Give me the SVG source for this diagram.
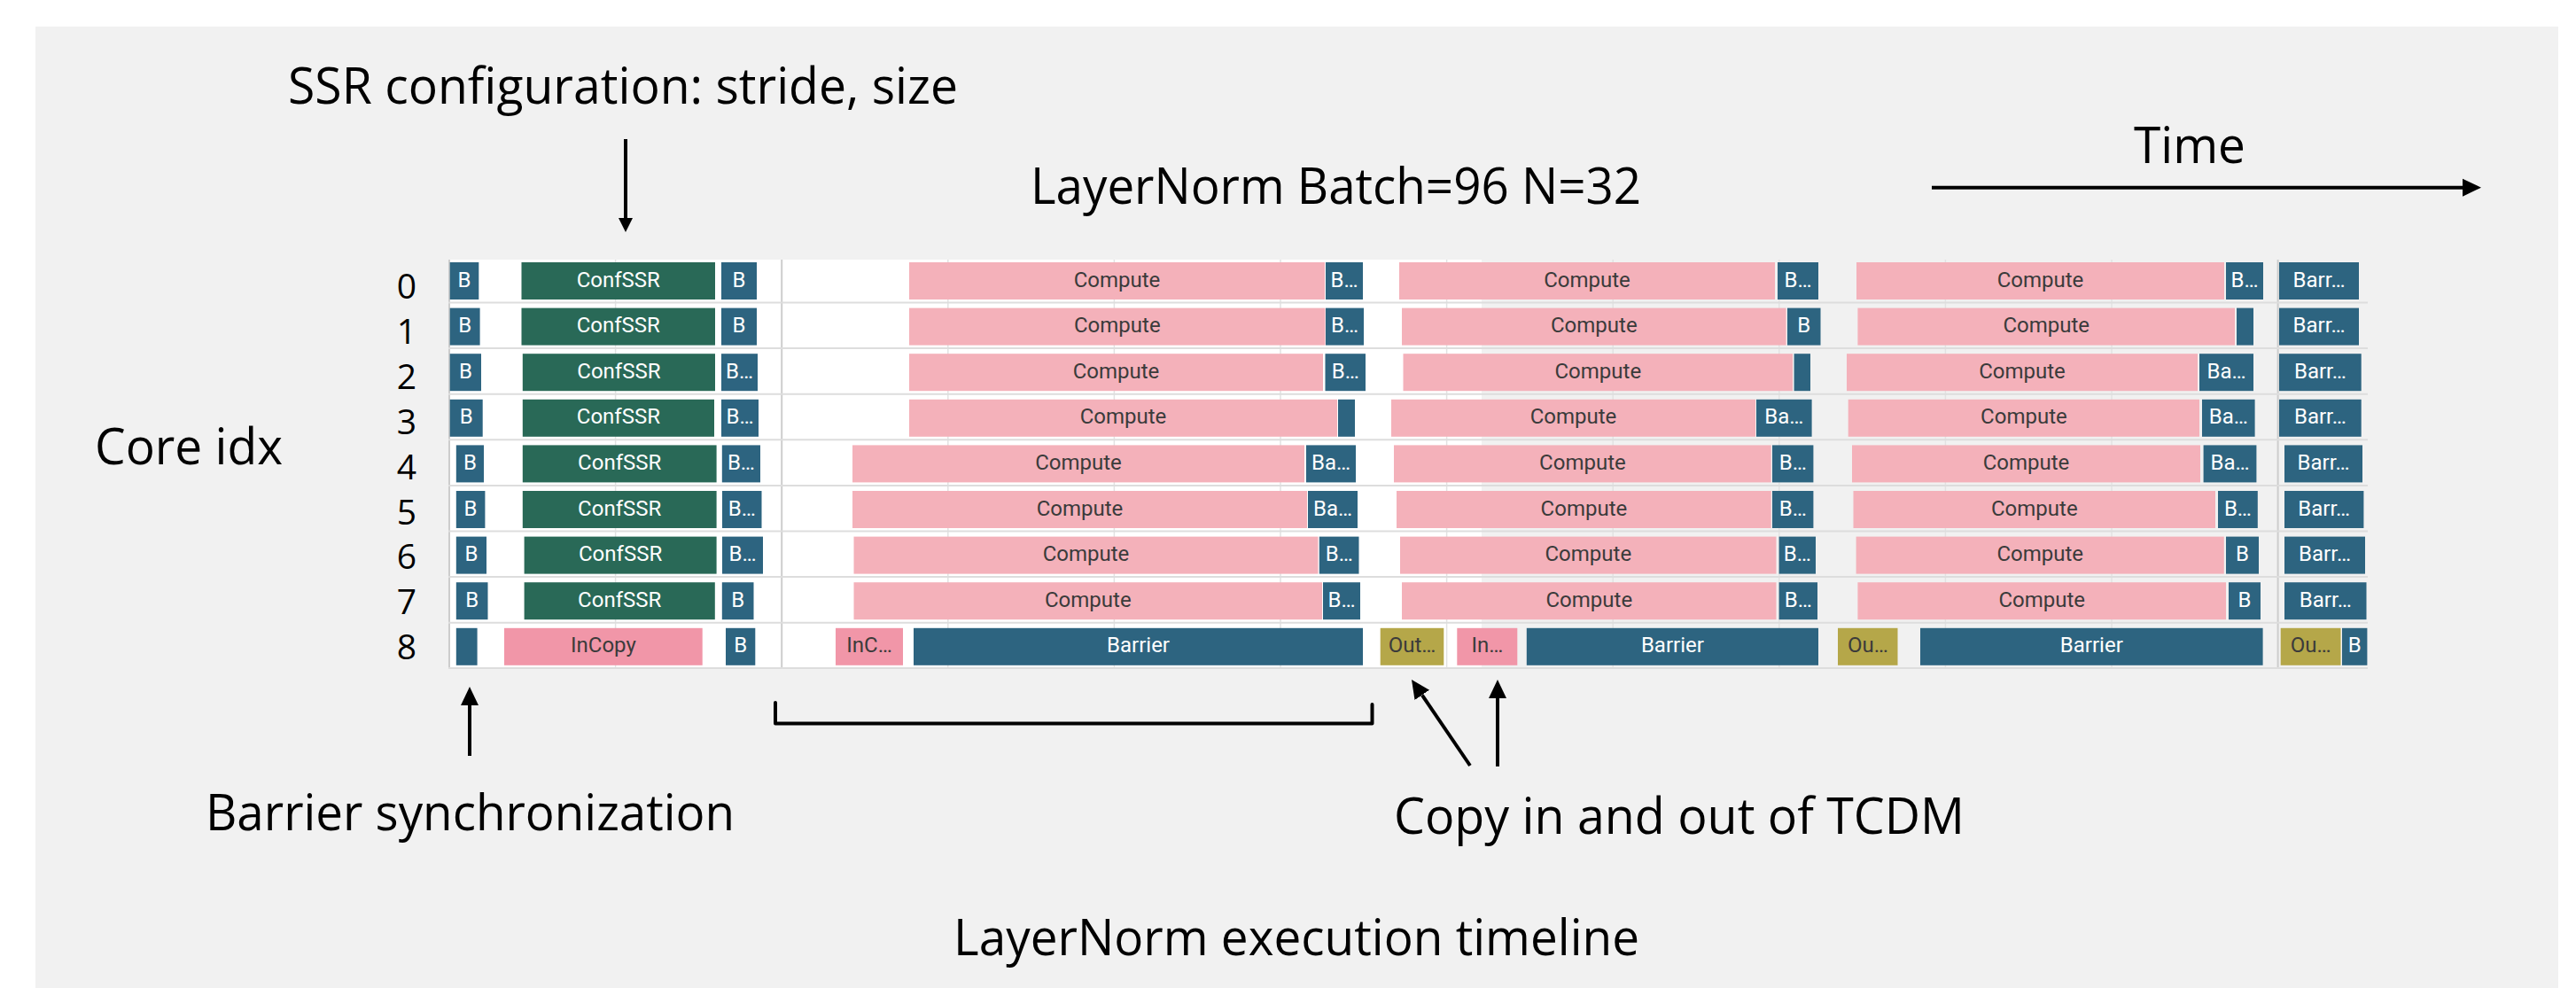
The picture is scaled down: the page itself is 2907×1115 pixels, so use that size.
<svg xmlns="http://www.w3.org/2000/svg" width="2907" height="1115" viewBox="0 0 2907 1115">
  <style>
    .panel { fill: #f1f1f1; }
    .chart { fill: #ffffff; }
    .grid { stroke: #e2e2e2; stroke-width: 1.5; }
    .grid-strong { stroke: #cdcdcd; stroke-width: 2; }
    .rowsep { stroke: #dddddd; stroke-width: 2; }
    .blue { fill: #2d6480; }
    .green { fill: #296957; }
    .pink { fill: #f4b1ba; }
    .pinkd { fill: #f196a8; }
    .olive { fill: #b5a749; }
    .lbl { font-family: Roboto, "Liberation Sans", sans-serif; font-size: 24px; text-anchor: middle; }
    .lw { fill: #ffffff; }
    .ld { fill: #3b3b3b; }
    .ann { font-family: "Open Sans", "Noto Sans", "Liberation Sans", sans-serif; font-size: 56px; fill: #000000; }
    .rowno { font-family: "Open Sans", "Noto Sans", "Liberation Sans", sans-serif; font-size: 39px; fill: #000000; text-anchor: middle; }
    .arrow { stroke: #000000; fill: none; stroke-width: 4; }
  </style>
  <defs>
    <marker id="ah" markerUnits="userSpaceOnUse" markerWidth="24" markerHeight="24" viewBox="0 -12 24 24" refX="0" refY="0" orient="auto">
      <path d="M0,-10 L21,0 L0,10 Z" fill="#000000"/>
    </marker>
    <marker id="ah-sm" markerUnits="userSpaceOnUse" markerWidth="20" markerHeight="20" viewBox="0 -10 20 20" refX="0" refY="0" orient="auto">
      <path d="M0,-8 L16,0 L0,8 Z" fill="#000000"/>
    </marker>
  </defs>

  <!-- page background and grey panel -->
  <rect x="0" y="0" width="2907" height="1115" fill="#ffffff"/>
  <rect class="panel" x="40" y="30" width="2847" height="1085"/>

  <!-- timeline chart area -->
  <g id="chart-frame">
    <rect class="chart" x="506" y="293" width="1166" height="461"/>
    <line class="grid-strong" x1="507" y1="293" x2="507" y2="754"/>
    <line class="grid" x1="694.6" y1="293" x2="694.6" y2="754"/>
    <line class="grid-strong" x1="882.2" y1="293" x2="882.2" y2="754"/>
    <line class="grid" x1="1069.8" y1="293" x2="1069.8" y2="754"/>
    <line class="grid" x1="1257.4" y1="293" x2="1257.4" y2="754"/>
    <line class="grid" x1="1445" y1="293" x2="1445" y2="754"/>
    <line class="grid" x1="1632.6" y1="293" x2="1632.6" y2="754"/>
    <line class="grid" x1="1820.2" y1="293" x2="1820.2" y2="754"/>
    <line class="grid" x1="2007.8" y1="293" x2="2007.8" y2="754"/>
    <line class="grid" x1="2195.4" y1="293" x2="2195.4" y2="754"/>
    <line class="grid" x1="2383" y1="293" x2="2383" y2="754"/>
    <line class="grid-strong" x1="2570.6" y1="293" x2="2570.6" y2="754"/>
    <line class="rowsep" x1="506" y1="341.5" x2="2672" y2="341.5"/>
    <line class="rowsep" x1="506" y1="393.1" x2="2672" y2="393.1"/>
    <line class="rowsep" x1="506" y1="444.7" x2="2672" y2="444.7"/>
    <line class="rowsep" x1="506" y1="496.3" x2="2672" y2="496.3"/>
    <line class="rowsep" x1="506" y1="547.9" x2="2672" y2="547.9"/>
    <line class="rowsep" x1="506" y1="599.5" x2="2672" y2="599.5"/>
    <line class="rowsep" x1="506" y1="651.1" x2="2672" y2="651.1"/>
    <line class="rowsep" x1="506" y1="702.7" x2="2672" y2="702.7"/>
    <line class="rowsep" x1="506" y1="754" x2="2672" y2="754"/>
  </g>

  <!-- core indices -->
  <g id="row-labels">
    <text class="rowno" x="459" y="337.3">0</text>
    <text class="rowno" x="459" y="388.2">1</text>
    <text class="rowno" x="459" y="439">2</text>
    <text class="rowno" x="459" y="489.9">3</text>
    <text class="rowno" x="459" y="540.7">4</text>
    <text class="rowno" x="459" y="591.6">5</text>
    <text class="rowno" x="459" y="642.4">6</text>
    <text class="rowno" x="459" y="693.3">7</text>
    <text class="rowno" x="459" y="744.1">8</text>
  </g>

  <!-- core 0 -->
  <g id="core-0">
    <g id="c0-1"><rect class="blue" x="507.7" y="296" width="32.6" height="42"/><text class="lbl lw" x="524" y="323.5">B</text></g>
    <g id="c0-2"><rect class="green" x="588.5" y="296" width="218.5" height="42"/><text class="lbl lw" x="697.8" y="323.5">ConfSSR</text></g>
    <g id="c0-3"><rect class="blue" x="814" y="296" width="40" height="42"/><text class="lbl lw" x="834" y="323.5">B</text></g>
    <g id="c0-4"><rect class="pink" x="1026" y="296" width="469" height="42"/><text class="lbl ld" x="1260.5" y="323.5">Compute</text></g>
    <g id="c0-5"><rect class="blue" x="1496" y="296" width="42" height="42"/><text class="lbl lw" x="1517" y="323.5">B…</text></g>
    <g id="c0-6"><rect class="pink" x="1579" y="296" width="424" height="42"/><text class="lbl ld" x="1791" y="323.5">Compute</text></g>
    <g id="c0-7"><rect class="blue" x="2006" y="296" width="46" height="42"/><text class="lbl lw" x="2029" y="323.5">B…</text></g>
    <g id="c0-8"><rect class="pink" x="2095" y="296" width="415" height="42"/><text class="lbl ld" x="2302.5" y="323.5">Compute</text></g>
    <g id="c0-9"><rect class="blue" x="2512" y="296" width="42" height="42"/><text class="lbl lw" x="2533" y="323.5">B…</text></g>
    <g id="c0-10"><rect class="blue" x="2572" y="296" width="90" height="42"/><text class="lbl lw" x="2617" y="323.5">Barr…</text></g>
  </g>

  <!-- core 1 -->
  <g id="core-1">
    <g id="c1-1"><rect class="blue" x="507.7" y="347.6" width="33.9" height="42"/><text class="lbl lw" x="524.7" y="375.1">B</text></g>
    <g id="c1-2"><rect class="green" x="588.5" y="347.6" width="218.5" height="42"/><text class="lbl lw" x="697.8" y="375.1">ConfSSR</text></g>
    <g id="c1-3"><rect class="blue" x="814" y="347.6" width="40" height="42"/><text class="lbl lw" x="834" y="375.1">B</text></g>
    <g id="c1-4"><rect class="pink" x="1026" y="347.6" width="469.5" height="42"/><text class="lbl ld" x="1260.8" y="375.1">Compute</text></g>
    <g id="c1-5"><rect class="blue" x="1496" y="347.6" width="43" height="42"/><text class="lbl lw" x="1517.5" y="375.1">B…</text></g>
    <g id="c1-6"><rect class="pink" x="1582" y="347.6" width="433.6" height="42"/><text class="lbl ld" x="1798.8" y="375.1">Compute</text></g>
    <g id="c1-7"><rect class="blue" x="2017" y="347.6" width="37.5" height="42"/><text class="lbl lw" x="2035.8" y="375.1">B</text></g>
    <g id="c1-8"><rect class="pink" x="2096.4" y="347.6" width="425.6" height="42"/><text class="lbl ld" x="2309.2" y="375.1">Compute</text></g>
    <g id="c1-9"><rect class="blue" x="2524" y="347.6" width="19" height="42"/></g>
    <g id="c1-10"><rect class="blue" x="2572" y="347.6" width="90" height="42"/><text class="lbl lw" x="2617" y="375.1">Barr…</text></g>
  </g>

  <!-- core 2 -->
  <g id="core-2">
    <g id="c2-1"><rect class="blue" x="507.7" y="399.2" width="35.3" height="42"/><text class="lbl lw" x="525.4" y="426.7">B</text></g>
    <g id="c2-2"><rect class="green" x="589.8" y="399.2" width="217.2" height="42"/><text class="lbl lw" x="698.4" y="426.7">ConfSSR</text></g>
    <g id="c2-3"><rect class="blue" x="814" y="399.2" width="41" height="42"/><text class="lbl lw" x="834.5" y="426.7">B…</text></g>
    <g id="c2-4"><rect class="pink" x="1026" y="399.2" width="467" height="42"/><text class="lbl ld" x="1259.5" y="426.7">Compute</text></g>
    <g id="c2-5"><rect class="blue" x="1495.5" y="399.2" width="45.5" height="42"/><text class="lbl lw" x="1518.3" y="426.7">B…</text></g>
    <g id="c2-6"><rect class="pink" x="1583.5" y="399.2" width="439.5" height="42"/><text class="lbl ld" x="1803.3" y="426.7">Compute</text></g>
    <g id="c2-7"><rect class="blue" x="2024.6" y="399.2" width="18.4" height="42"/></g>
    <g id="c2-8"><rect class="pink" x="2084" y="399.2" width="396" height="42"/><text class="lbl ld" x="2282" y="426.7">Compute</text></g>
    <g id="c2-9"><rect class="blue" x="2482" y="399.2" width="61" height="42"/><text class="lbl lw" x="2512.5" y="426.7">Ba…</text></g>
    <g id="c2-10"><rect class="blue" x="2572" y="399.2" width="92.7" height="42"/><text class="lbl lw" x="2618.4" y="426.7">Barr…</text></g>
  </g>

  <!-- core 3 -->
  <g id="core-3">
    <g id="c3-1"><rect class="blue" x="507.7" y="450.8" width="37" height="42"/><text class="lbl lw" x="526.2" y="478.3">B</text></g>
    <g id="c3-2"><rect class="green" x="589.8" y="450.8" width="216.2" height="42"/><text class="lbl lw" x="697.9" y="478.3">ConfSSR</text></g>
    <g id="c3-3"><rect class="blue" x="814" y="450.8" width="42" height="42"/><text class="lbl lw" x="835" y="478.3">B…</text></g>
    <g id="c3-4"><rect class="pink" x="1026" y="450.8" width="483" height="42"/><text class="lbl ld" x="1267.5" y="478.3">Compute</text></g>
    <g id="c3-5"><rect class="blue" x="1510" y="450.8" width="19" height="42"/></g>
    <g id="c3-6"><rect class="pink" x="1570" y="450.8" width="411" height="42"/><text class="lbl ld" x="1775.5" y="478.3">Compute</text></g>
    <g id="c3-7"><rect class="blue" x="1982" y="450.8" width="62.6" height="42"/><text class="lbl lw" x="2013.3" y="478.3">Ba…</text></g>
    <g id="c3-8"><rect class="pink" x="2085.7" y="450.8" width="396.3" height="42"/><text class="lbl ld" x="2283.9" y="478.3">Compute</text></g>
    <g id="c3-9"><rect class="blue" x="2485" y="450.8" width="59.6" height="42"/><text class="lbl lw" x="2514.8" y="478.3">Ba…</text></g>
    <g id="c3-10"><rect class="blue" x="2572" y="450.8" width="92.7" height="42"/><text class="lbl lw" x="2618.4" y="478.3">Barr…</text></g>
  </g>

  <!-- core 4 -->
  <g id="core-4">
    <g id="c4-1"><rect class="blue" x="514.8" y="502.4" width="31.2" height="42"/><text class="lbl lw" x="530.4" y="529.9">B</text></g>
    <g id="c4-2"><rect class="green" x="589.8" y="502.4" width="218.8" height="42"/><text class="lbl lw" x="699.2" y="529.9">ConfSSR</text></g>
    <g id="c4-3"><rect class="blue" x="814.8" y="502.4" width="43.2" height="42"/><text class="lbl lw" x="836.4" y="529.9">B…</text></g>
    <g id="c4-4"><rect class="pink" x="962" y="502.4" width="510" height="42"/><text class="lbl ld" x="1217" y="529.9">Compute</text></g>
    <g id="c4-5"><rect class="blue" x="1474" y="502.4" width="56" height="42"/><text class="lbl lw" x="1502" y="529.9">Ba…</text></g>
    <g id="c4-6"><rect class="pink" x="1573" y="502.4" width="425.7" height="42"/><text class="lbl ld" x="1785.9" y="529.9">Compute</text></g>
    <g id="c4-7"><rect class="blue" x="2000" y="502.4" width="46.4" height="42"/><text class="lbl lw" x="2023.2" y="529.9">B…</text></g>
    <g id="c4-8"><rect class="pink" x="2090" y="502.4" width="393" height="42"/><text class="lbl ld" x="2286.5" y="529.9">Compute</text></g>
    <g id="c4-9"><rect class="blue" x="2486.6" y="502.4" width="59.8" height="42"/><text class="lbl lw" x="2516.5" y="529.9">Ba…</text></g>
    <g id="c4-10"><rect class="blue" x="2578" y="502.4" width="88" height="42"/><text class="lbl lw" x="2622" y="529.9">Barr…</text></g>
  </g>

  <!-- core 5 -->
  <g id="core-5">
    <g id="c5-1"><rect class="blue" x="514.8" y="554" width="32.6" height="42"/><text class="lbl lw" x="531.1" y="581.5">B</text></g>
    <g id="c5-2"><rect class="green" x="589.8" y="554" width="218.8" height="42"/><text class="lbl lw" x="699.2" y="581.5">ConfSSR</text></g>
    <g id="c5-3"><rect class="blue" x="815" y="554" width="44.5" height="42"/><text class="lbl lw" x="837.3" y="581.5">B…</text></g>
    <g id="c5-4"><rect class="pink" x="962" y="554" width="513" height="42"/><text class="lbl ld" x="1218.5" y="581.5">Compute</text></g>
    <g id="c5-5"><rect class="blue" x="1476" y="554" width="56" height="42"/><text class="lbl lw" x="1504" y="581.5">Ba…</text></g>
    <g id="c5-6"><rect class="pink" x="1576" y="554" width="422.7" height="42"/><text class="lbl ld" x="1787.4" y="581.5">Compute</text></g>
    <g id="c5-7"><rect class="blue" x="2000" y="554" width="46.4" height="42"/><text class="lbl lw" x="2023.2" y="581.5">B…</text></g>
    <g id="c5-8"><rect class="pink" x="2091.5" y="554" width="408.5" height="42"/><text class="lbl ld" x="2295.8" y="581.5">Compute</text></g>
    <g id="c5-9"><rect class="blue" x="2503" y="554" width="44.8" height="42"/><text class="lbl lw" x="2525.4" y="581.5">B…</text></g>
    <g id="c5-10"><rect class="blue" x="2578" y="554" width="89.4" height="42"/><text class="lbl lw" x="2622.7" y="581.5">Barr…</text></g>
  </g>

  <!-- core 6 -->
  <g id="core-6">
    <g id="c6-1"><rect class="blue" x="514.8" y="605.6" width="34.2" height="42"/><text class="lbl lw" x="531.9" y="633.1">B</text></g>
    <g id="c6-2"><rect class="green" x="591.6" y="605.6" width="217" height="42"/><text class="lbl lw" x="700.1" y="633.1">ConfSSR</text></g>
    <g id="c6-3"><rect class="blue" x="815" y="605.6" width="46" height="42"/><text class="lbl lw" x="838" y="633.1">B…</text></g>
    <g id="c6-4"><rect class="pink" x="963.5" y="605.6" width="524" height="42"/><text class="lbl ld" x="1225.5" y="633.1">Compute</text></g>
    <g id="c6-5"><rect class="blue" x="1488.8" y="605.6" width="44.7" height="42"/><text class="lbl lw" x="1511.2" y="633.1">B…</text></g>
    <g id="c6-6"><rect class="pink" x="1580" y="605.6" width="424.5" height="42"/><text class="lbl ld" x="1792.3" y="633.1">Compute</text></g>
    <g id="c6-7"><rect class="blue" x="2007.6" y="605.6" width="41.4" height="42"/><text class="lbl lw" x="2028.3" y="633.1">B…</text></g>
    <g id="c6-8"><rect class="pink" x="2094.6" y="605.6" width="415.2" height="42"/><text class="lbl ld" x="2302.2" y="633.1">Compute</text></g>
    <g id="c6-9"><rect class="blue" x="2512" y="605.6" width="37" height="42"/><text class="lbl lw" x="2530.5" y="633.1">B</text></g>
    <g id="c6-10"><rect class="blue" x="2578" y="605.6" width="91" height="42"/><text class="lbl lw" x="2623.5" y="633.1">Barr…</text></g>
  </g>

  <!-- core 7 -->
  <g id="core-7">
    <g id="c7-1"><rect class="blue" x="514.8" y="657.2" width="35.7" height="42"/><text class="lbl lw" x="532.7" y="684.7">B</text></g>
    <g id="c7-2"><rect class="green" x="591.6" y="657.2" width="215.2" height="42"/><text class="lbl lw" x="699.2" y="684.7">ConfSSR</text></g>
    <g id="c7-3"><rect class="blue" x="814.8" y="657.2" width="35.7" height="42"/><text class="lbl lw" x="832.7" y="684.7">B</text></g>
    <g id="c7-4"><rect class="pink" x="963.5" y="657.2" width="528.5" height="42"/><text class="lbl ld" x="1227.8" y="684.7">Compute</text></g>
    <g id="c7-5"><rect class="blue" x="1493" y="657.2" width="42" height="42"/><text class="lbl lw" x="1514" y="684.7">B…</text></g>
    <g id="c7-6"><rect class="pink" x="1582" y="657.2" width="422.5" height="42"/><text class="lbl ld" x="1793.3" y="684.7">Compute</text></g>
    <g id="c7-7"><rect class="blue" x="2007.6" y="657.2" width="43.4" height="42"/><text class="lbl lw" x="2029.3" y="684.7">B…</text></g>
    <g id="c7-8"><rect class="pink" x="2096.4" y="657.2" width="415.6" height="42"/><text class="lbl ld" x="2304.2" y="684.7">Compute</text></g>
    <g id="c7-9"><rect class="blue" x="2515" y="657.2" width="36" height="42"/><text class="lbl lw" x="2533" y="684.7">B</text></g>
    <g id="c7-10"><rect class="blue" x="2578" y="657.2" width="92.5" height="42"/><text class="lbl lw" x="2624.3" y="684.7">Barr…</text></g>
  </g>

  <!-- core 8 (data mover) -->
  <g id="core-8">
    <g id="c8-1"><rect class="blue" x="514.8" y="708.8" width="23.8" height="42"/></g>
    <g id="c8-2"><rect class="pinkd" x="569" y="708.8" width="223.7" height="42"/><text class="lbl ld" x="680.9" y="736.3">InCopy</text></g>
    <g id="c8-3"><rect class="blue" x="819" y="708.8" width="33.3" height="42"/><text class="lbl lw" x="835.7" y="736.3">B</text></g>
    <g id="c8-4"><rect class="pinkd" x="943" y="708.8" width="76" height="42"/><text class="lbl ld" x="981" y="736.3">InC…</text></g>
    <g id="c8-5"><rect class="blue" x="1031" y="708.8" width="507" height="42"/><text class="lbl lw" x="1284.5" y="736.3">Barrier</text></g>
    <g id="c8-6"><rect class="olive" x="1557.7" y="708.8" width="71.6" height="42"/><text class="lbl ld" x="1593.5" y="736.3">Out…</text></g>
    <g id="c8-7"><rect class="pinkd" x="1644.3" y="708.8" width="68" height="42"/><text class="lbl ld" x="1678.3" y="736.3">In…</text></g>
    <g id="c8-8"><rect class="blue" x="1722.8" y="708.8" width="329.2" height="42"/><text class="lbl lw" x="1887.4" y="736.3">Barrier</text></g>
    <g id="c8-9"><rect class="olive" x="2074" y="708.8" width="67.5" height="42"/><text class="lbl ld" x="2107.8" y="736.3">Ou…</text></g>
    <g id="c8-10"><rect class="blue" x="2167" y="708.8" width="386.6" height="42"/><text class="lbl lw" x="2360.3" y="736.3">Barrier</text></g>
    <g id="c8-11"><rect class="olive" x="2573.7" y="708.8" width="67.8" height="42"/><text class="lbl ld" x="2607.6" y="736.3">Ou…</text></g>
    <g id="c8-12"><rect class="blue" x="2643" y="708.8" width="28.4" height="42"/><text class="lbl lw" x="2657.2" y="736.3">B</text></g>
  </g>

  <!-- annotation texts -->
  <g id="annotations">
    <text class="ann" x="325" y="117" textLength="756" lengthAdjust="spacingAndGlyphs">SSR configuration: stride, size</text>
    <text class="ann" x="1163" y="230" textLength="689" lengthAdjust="spacingAndGlyphs">LayerNorm Batch=96 N=32</text>
    <text class="ann" x="2408" y="184" textLength="126" lengthAdjust="spacingAndGlyphs">Time</text>
    <text class="ann" x="107" y="524" textLength="212" lengthAdjust="spacingAndGlyphs">Core idx</text>
    <text class="ann" x="232" y="937" textLength="597" lengthAdjust="spacingAndGlyphs">Barrier synchronization</text>
    <text class="ann" x="1573" y="941" textLength="644" lengthAdjust="spacingAndGlyphs">Copy in and out of TCDM</text>
    <text class="ann" x="1076" y="1078" textLength="774" lengthAdjust="spacingAndGlyphs">LayerNorm execution timeline</text>
  </g>

  <!-- connectors -->
  <g id="connectors">
    <line class="arrow" x1="706" y1="157" x2="706" y2="246" stroke-width="3" marker-end="url(#ah-sm)"/>
    <line class="arrow" x1="2180" y1="211.7" x2="2779" y2="211.7" stroke-width="5" marker-end="url(#ah)"/>
    <line class="arrow" x1="530" y1="853" x2="530" y2="796" marker-end="url(#ah)"/>
    <line class="arrow" x1="1659" y1="864" x2="1604.8" y2="784.3" marker-end="url(#ah)"/>
    <line class="arrow" x1="1690" y1="865" x2="1690" y2="788" marker-end="url(#ah)"/>
    <path class="arrow" d="M875,793 V816.5 H1548.5 V795" stroke-linejoin="round" stroke-linecap="round"/>
  </g>
</svg>
